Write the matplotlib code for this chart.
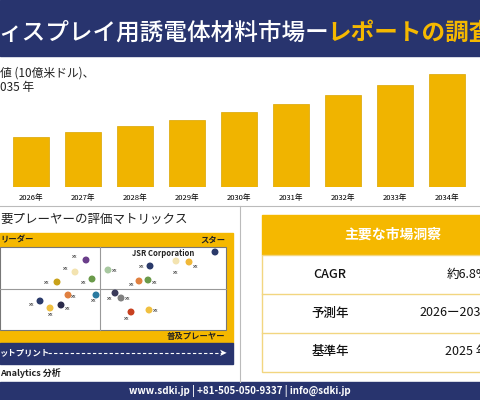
import matplotlib.pyplot as plt
from matplotlib.patches import Rectangle

plt.rcParams['font.family'] = ['Noto Sans CJK JP', 'DejaVu Sans']

NAVY = '#28346e'
GOLD = '#f5b800'

years = ['2026年', '2027年', '2028年', '2029年', '2030年', '2031年', '2032年', '2033年', '2034年']
values = [1.25, 1.38, 1.53, 1.70, 1.88, 2.08, 2.33, 2.58, 2.85]

# matrix points (pixel positions on the picture), colours, label offsets
pts_x = [86, 75, 57, 92, 108, 150, 176, 189, 215, 139, 148, 68, 96, 40, 61, 50, 115, 121, 131, 149]
pts_y = [260, 272, 282, 279, 270, 266, 261, 262, 252, 281, 280, 295, 295, 301, 305, 308, 293, 298, 312, 310]
pts_c = ['#6a3d8a', '#f3e3b0', '#c9a21a', '#6a9a4a', '#a8c8a0', '#2a3a6a', '#f3e3b0', '#f0b838',
         '#2a3a6a', '#e08040', '#6a9a4a', '#e08040', '#2a7aa0', '#2a3a6a', '#2a2a4a', '#f0c040',
         '#3a3a5a', '#808080', '#c84020', '#f0c040']
lab_dx = [-11, -9, -10, -8, 7, -8, 0, 7, None, -7, 7, 6, -2, -8, 7, 1, -5, 7, -4, 7]
lab_dy = [-4, -3, 0, 3, 0, 0, 11, 4, None, 4, 2, 2, 6, 3, 3, 7, 5, 0, 6, 0]

fig = plt.figure(figsize=(4.8, 4.0), dpi=100)
bg = fig.add_axes([0, 0, 1, 1])
bg.set_xlim(0, 480)
bg.set_ylim(400, 0)
bg.axis('off')

# title band
bg.add_patch(Rectangle((0, 0), 480, 56, color=NAVY))
bg.text(-2, 33, 'ィスプレイ用誘電体材料市場ー', color='white', fontsize=17, va='center', fontweight='medium')
bg.text(327, 33, 'レポートの調査', color=GOLD, fontsize=17, va='center', fontweight='bold')
bg.text(0, 73, '値 (10億米ドル)、', fontsize=8.5, va='center', color='#222222')
bg.text(0, 87, '035 年', fontsize=8.5, va='center', color='#222222')

# dividers
bg.plot([0, 480], [206, 206], color='#bbbbbb', lw=0.8)
bg.plot([240, 240], [206, 382], color='#bbbbbb', lw=0.8)

# matrix
bg.text(0, 219, '要プレーヤーの評価マトリックス', fontsize=9, va='center', color='#222222')
bg.add_patch(Rectangle((0, 233), 233, 110, color=GOLD))
bg.add_patch(Rectangle((0, 247), 226, 83, facecolor='white', edgecolor='#777777', lw=0.8))
bg.plot([100, 100], [247, 330], color='#999999', lw=0.8)
bg.plot([0, 226], [289, 289], color='#999999', lw=0.8)
bg.text(0, 240, 'リーダー', fontsize=6, fontweight='bold', va='center', color='#222222')
bg.text(225, 240, 'スター', fontsize=6, fontweight='bold', va='center', ha='right', color='#222222')
bg.text(225, 336, '普及プレーヤー', fontsize=6, fontweight='bold', va='center', ha='right', color='#222222')
bg.text(163, 253, 'JSR Corporation', fontsize=5.5, fontweight='bold', va='center', ha='center', color='#222222')
bg.scatter(pts_x, pts_y, c=pts_c, s=16, zorder=3)
for x, y, dx, dy in zip(pts_x, pts_y, lab_dx, lab_dy):
    if dx is not None:
        bg.text(x + dx, y + dy, 'xx', fontsize=4, ha='center', va='center', color='#333333')
bg.add_patch(Rectangle((0, 343), 233, 21, color=NAVY))
bg.text(0, 353, 'ットプリント', fontsize=6, fontweight='bold', color='white', va='center')
bg.plot([48, 224], [353, 353], color='white', lw=0.8, ls=(0, (3, 2)))
bg.text(223, 353, '➤', fontsize=7, color='white', va='center', ha='center', family='DejaVu Sans')
bg.text(0, 373, 'Analytics 分析', fontsize=6.5, style='italic', fontweight='bold', va='center', color='#222222')

# insight table
bg.add_patch(Rectangle((262, 215), 230, 40, color=GOLD))
bg.text(393, 235, '主要な市場洞察', fontsize=10, color='white', ha='center', va='center', fontweight='bold')
bg.add_patch(Rectangle((262, 255), 230, 117, facecolor='white', edgecolor='#f2d680', lw=1))
for yy in [294, 333]:
    bg.plot([262, 480], [yy, yy], color='#f2d680', lw=1)
rows = [('CAGR', '約6.8%'), ('予測年', '2026ー2035'), ('基準年', '2025 年')]
for i, (k, v) in enumerate(rows):
    yy = 274 + 39 * i
    bg.text(330, yy, k, fontsize=9, va='center', ha='center', color='#111111', fontweight='medium')
    bg.text(488, yy, v, fontsize=9, va='center', ha='right', color='#111111')

# footer
bg.add_patch(Rectangle((0, 382), 480, 18, color=NAVY))
bg.text(240, 391, 'www.sdki.jp | +81-505-050-9337 | info@sdki.jp', color='white', fontsize=7,
        ha='center', va='center', fontweight='bold')

# bars
ax = fig.add_axes([0, (400 - 187) / 400, 1, 127 / 400])
ax.set_xlim(-0.6, 480 / 52 - 0.6)
ax.set_ylim(0, 3.2)
ax.bar(range(len(values)), values, width=0.7, color='#f0b400', edgecolor='#d9a400', lw=0.5)
ax.set_xticks(range(len(years)))
ax.set_xticklabels(years, fontsize=5.5)
ax.tick_params(length=0, pad=5)
ax.set_yticks([])
for s in ax.spines.values():
    s.set_visible(False)
ax.patch.set_alpha(0)

fig.savefig('out.png', dpi=100)
